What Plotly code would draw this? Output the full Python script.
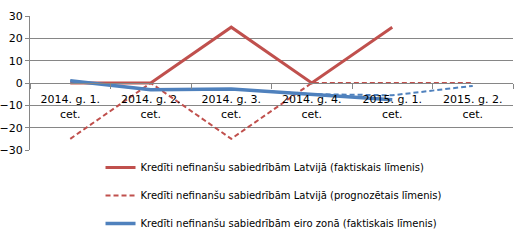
import plotly.graph_objects as go

categories = ["2014. g. 1.<br>cet.", "2014. g. 2.<br>cet.", "2014. g. 3.<br>cet.",
              "2014. g. 4.<br>cet.", "2015. g. 1.<br>cet.", "2015. g. 2.<br>cet."]
lv_actual = [0, 0, 25, 0, 25, None]
lv_forecast = [-25, 0, -25, 0, 0, 0]
ez_actual = [1, -3, -2.7, -5, -7.5, None]
ez_forecast = [1, -3, -2.7, -5, -5.5, -1.3]

names = ["Kredīti nefinanšu sabiedrībām Latvijā (faktiskais līmenis)",
         "Kredīti nefinanšu sabiedrībām Latvijā (prognozētais līmenis)",
         "Kredīti nefinanšu sabiedrībām eiro zonā (faktiskais līmenis)",
         "Kredīti nefinanšu sabiedrībām eiro zonā (prognozētais līmenis)"]

RED = "#C0504D"
BLUE = "#4F81BD"

fig = go.Figure()
fig.add_trace(go.Scatter(x=categories, y=ez_forecast, mode="lines", name=names[3],
                         line=dict(color=BLUE, width=2, dash="5px,3px"), showlegend=False,
                         legendrank=4, legendgroup="d"))
fig.add_trace(go.Scatter(x=categories, y=lv_forecast, mode="lines", name=names[1],
                         line=dict(color=RED, width=2, dash="5px,3px"), legendrank=2,
                         legendgroup="b"))
fig.add_trace(go.Scatter(x=categories, y=lv_actual, mode="lines", name=names[0],
                         line=dict(color=RED, width=3), legendrank=1, legendgroup="a"))
fig.add_trace(go.Scatter(x=categories, y=ez_actual, mode="lines", name=names[2],
                         line=dict(color=BLUE, width=3.5), legendrank=3, legendgroup="c"))

fig.update_layout(
    width=528, height=245,
    margin=dict(l=30, r=15, t=16, b=95, autoexpand=False),
    plot_bgcolor="white", paper_bgcolor="white",
    font=dict(family="DejaVu Sans", size=11, color="black"),
    legend=dict(x=0.146, y=-0.022, xanchor="left", yanchor="top",
                font=dict(family="DejaVu Sans", size=10),
                traceorder="grouped", tracegroupgap=9,
                itemwidth=30, bgcolor="rgba(0,0,0,0)"),
    xaxis=dict(
        categoryorder="array", categoryarray=categories,
        anchor="free", position=0.5,
        showline=True, linecolor="#868686", linewidth=1,
        ticks="outside", tickson="boundaries", ticklen=5, tickcolor="#868686",
        showgrid=False, zeroline=False, ticklabelstandoff=6,
        range=[-0.5, 5.5], tickfont=dict(size=11),
    ),
    yaxis=dict(
        range=[-30, 30], dtick=10, tick0=0,
        showgrid=True, gridcolor="#868686", gridwidth=1,
        showline=True, linecolor="#868686", linewidth=1,
        ticks="outside", ticklen=4, tickcolor="#868686",
        zeroline=False, tickfont=dict(size=11),
    ),
)

fig.write_html("out.html")
